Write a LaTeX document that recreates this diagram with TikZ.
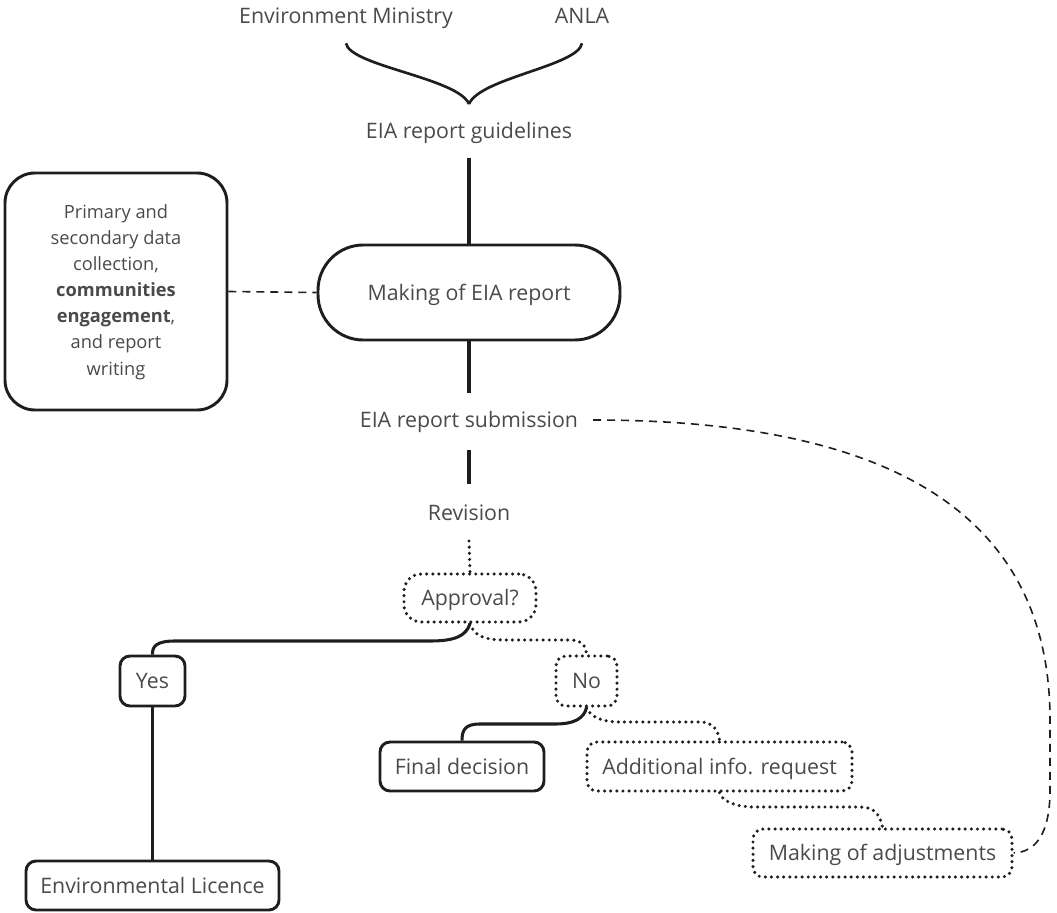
\documentclass[tikz,border=0pt]{standalone}
\usepackage{fontspec}
\setmainfont{Open Sans}
\definecolor{txt}{HTML}{4A4A4A}
\definecolor{ln}{HTML}{1E1E1E}
\begin{document}
\begin{tikzpicture}[x=0.75pt,y=-0.75pt,
  oneline/.style={text height=11.4pt,text depth=0pt},
  lbl/.style={oneline,text=txt,font=\fontsize{16}{19}\selectfont,inner sep=0pt},
  solidbox/.style={oneline,draw=ln,line width=2.2pt,rounded corners=7.5pt,text=txt,font=\fontsize{16}{19}\selectfont,inner sep=0pt},
  dotbox/.style={solidbox,dash pattern=on 0pt off 4.6pt,line cap=round,line width=2.6pt},
  leftbox/.style={draw=ln,line width=2.2pt,rounded corners=22.5pt,text=txt,inner sep=0pt,font=\fontsize{13.7}{19.6}\selectfont},
  conn/.style={draw=ln,line width=2.3pt},
  dotconn/.style={draw=ln,line width=2.6pt,dash pattern=on 0pt off 4.6pt,line cap=round},
  dashconn/.style={draw=ln,line width=1.2pt,dash pattern=on 6pt off 4.5pt}]
\useasboundingbox (0,0) rectangle (1057,913);

% text labels
\node[lbl] (envm) at (346,16) {Environment Ministry};
\node[lbl] (anla) at (582,16) {ANLA};
\node[lbl] (guid) at (469,131) {EIA report guidelines};
\node[lbl] (sub) at (469,420) {EIA report submission};
\node[lbl] (rev) at (469,513) {Revision};

% boxes
\node[leftbox,minimum width=166.5pt,minimum height=177.75pt] (left) at (116,291.5)
  {\raisebox{-3pt}{\begin{tabular}{@{}c@{}}Primary and\\secondary data\\collection,\\\textbf{communities}\\\textbf{engagement},\\and report\\writing\end{tabular}}};
\node[solidbox,rounded corners=34pt,minimum width=226.5pt,minimum height=71.25pt] (pill) at (469,292.5) {Making of EIA report};
\node[dotbox,rounded corners=13pt,minimum width=99pt,minimum height=36pt] (appr) at (470,598) {Approval?};
\node[solidbox,minimum width=48.75pt,minimum height=37.5pt] (yes) at (152.5,681) {Yes};
\node[dotbox,minimum width=45.75pt,minimum height=37.5pt] (no) at (586.5,681) {No};
\node[solidbox,minimum width=123pt,minimum height=36.75pt] (fin) at (462,766.5) {Final decision};
\node[dotbox,minimum width=198.75pt,minimum height=36.75pt] (addl) at (719.5,766.5) {Additional info. request};
\node[dotbox,minimum width=194.25pt,minimum height=36pt] (moa) at (882.5,853) {Making of adjustments};
\node[solidbox,minimum width=189.75pt,minimum height=36.75pt] (el) at (152.5,885.5) {Environmental Licence};

% brace
\coordinate (tip) at (469,104);
\draw[conn,line width=2pt] ([yshift=-20.5pt]envm.center) .. controls (350,66) and (458,78) .. (tip);
\draw[conn,line width=2pt] ([yshift=-20.5pt]anla.center) .. controls (578,66) and (480,78) .. (tip);

% vertical connectors
\draw[conn] ([yshift=-20pt]guid.center) -- (pill.north);
\draw[conn] (pill.south) -- ([yshift=20pt]sub.center);
\draw[conn] ([yshift=-22.5pt]sub.center) -- ([yshift=22pt]rev.center);
\draw[dotconn] ([yshift=-21pt]rev.center) -- (appr.north);
\draw[dashconn] (left.east) -- (pill.west);

% branches
\draw[conn] (appr.south) .. controls (466,636) and (455,641) .. (430,641) -- (175,641) .. controls (157,641) and (152,646) .. (yes.north);
\draw[dotconn] (appr.south) .. controls (474,636) and (485,640) .. (505,640) -- (570,640) .. controls (582,640) and (586,646) .. (no.north);
\draw[conn] (yes.south) -- (el.north);
\draw[conn] (no.south) .. controls (584,718) and (575,724) .. (555,724) -- (480,724) .. controls (465,724) and (462,730) .. (fin.north);
\draw[dotconn] (no.south) .. controls (590,716) and (600,722) .. (620,722) -- (700,722) .. controls (713,722) and (718,730) .. (addl.north);
\draw[dotconn] (addl.south) .. controls (722,801) and (735,807) .. (755,807) -- (860,807) .. controls (875,807) and (880,815) .. (moa.north);

% feedback loop
\draw[dashconn] ([xshift=11pt]sub.east) .. controls (900,420) and (1050,520) .. (1050,720) -- (1050,790) .. controls (1050,835) and (1035,852) .. (moa.east);
\end{tikzpicture}
\end{document}
